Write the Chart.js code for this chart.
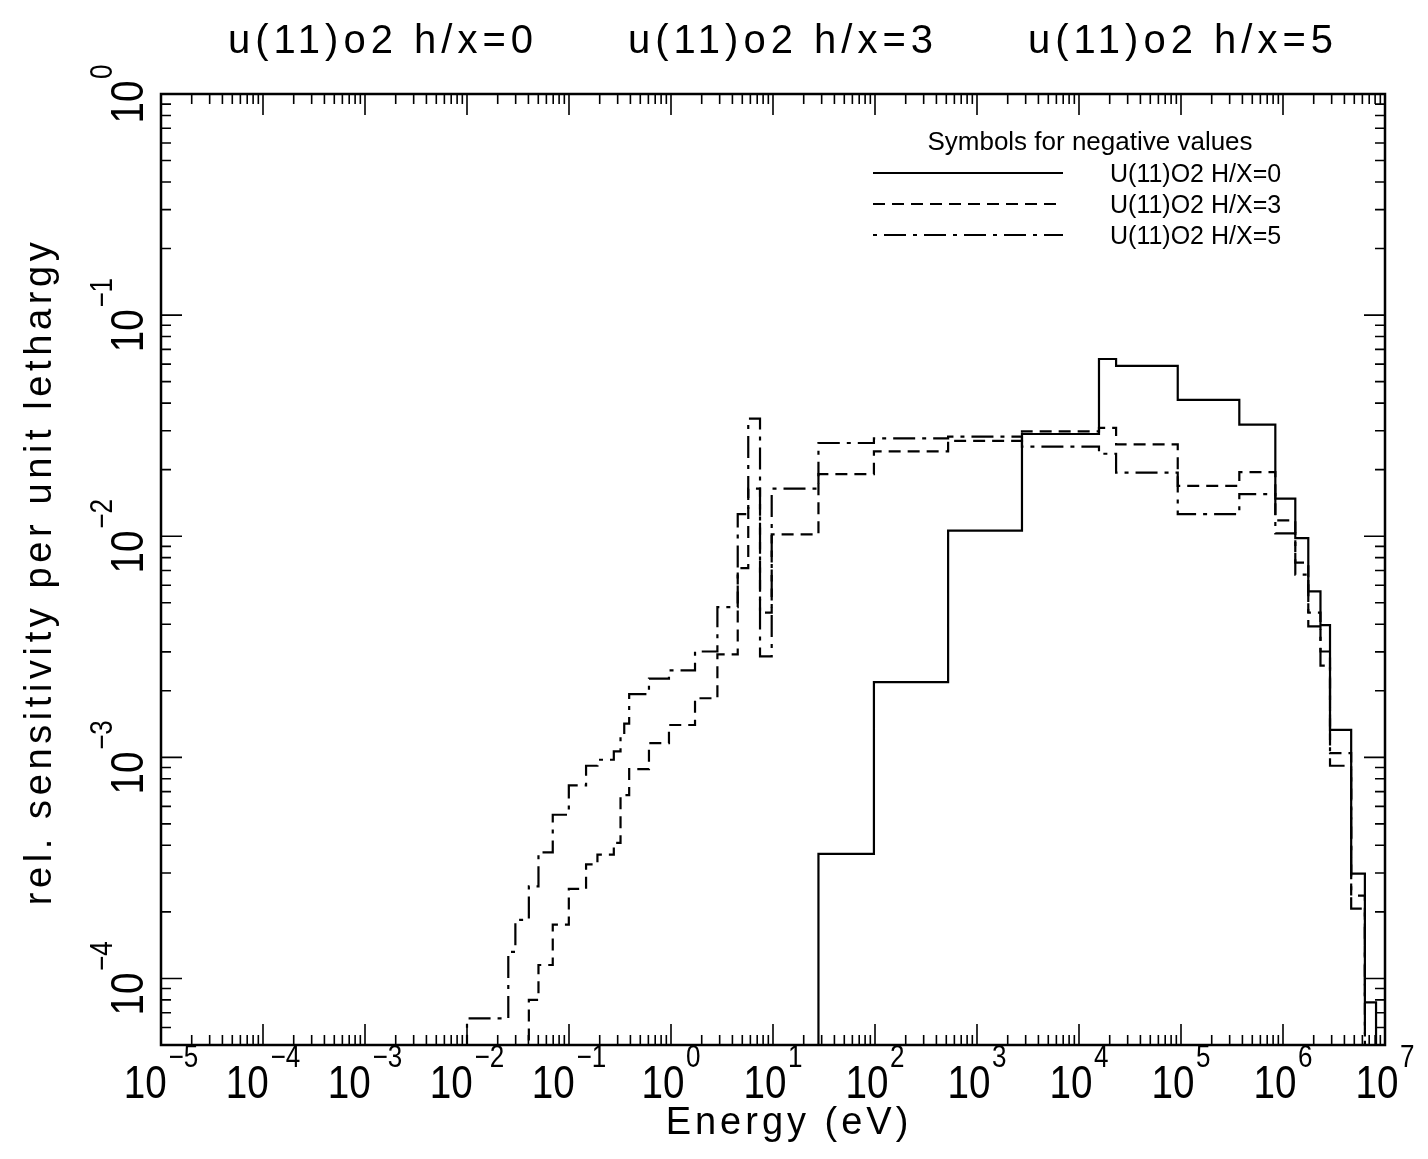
<!DOCTYPE html>
<html>
<head>
<meta charset="utf-8">
<title>u(11)o2 sensitivity</title>
<script src="https://cdn.jsdelivr.net/npm/chart.js@4.4.1/dist/chart.umd.min.js"></script>
<style>
body { margin: 0; background: #ffffff; }
#box { position: relative; width: 1428px; height: 1159px; }
</style>
</head>
<body>
<div id="box"><canvas id="plot"></canvas></div>
<script>
// energy group boundaries in eV
var groupEdges = [0.01, 0.0254, 0.0298, 0.0404, 0.0502, 0.0693, 0.0996, 0.147, 0.190, 0.275,
    0.320, 0.348, 0.389, 0.608, 0.955, 1.72, 2.85, 4.51, 5.72, 7.46,
    9.71, 27.9, 97.6, 521, 2760, 15700, 23100, 92900, 3.73e5, 8.41e5,
    1.32e6, 1.77e6, 2.33e6, 2.89e6, 4.66e6, 6.35e6, 8.17e6];

// rel. sensitivity per unit lethargy, one value per group (null = below the plot)
var sensHX0 = [null, null, null, null, null, null, null, null, null, null,
    null, null, null, null, null, null, null, null, null, null,
    null, 3.66e-4, 2.19e-3, 0.0106, 0.0290, 0.0633, 0.0589, 0.0414, 0.0320, 0.0148,
    0.0098, 0.00563, 0.00396, 0.00133, 2.98e-4, 7.8e-5];

var sensHX3 = [null, null, null, 8.0e-5, 1.15e-4, 1.75e-4, 2.54e-4, 3.28e-4, 3.63e-4, 4.10e-4,
    6.74e-4, 6.74e-4, 8.85e-4, 1.16e-3, 1.40e-3, 1.85e-3, 2.92e-3, 7.17e-3, 0.0164, 4.51e-3,
    0.0102, 0.0191, 0.0242, 0.0270, 0.0298, 0.0309, 0.0260, 0.0169, 0.0195, 0.0118,
    0.0076, 0.00451, 0.00301, 1.045e-3, 2.37e-4, null];

var sensHX5 = [6.6e-5, 1.32e-4, 1.84e-4, 2.61e-4, 3.72e-4, 5.5e-4, 7.46e-4, 9.16e-4, 9.75e-4, 1.064e-3,
    1.245e-3, 1.42e-3, 1.93e-3, 2.27e-3, 2.475e-3, 3.01e-3, 4.78e-3, 0.0126, 0.0340, 2.86e-3,
    0.0164, 0.0264, 0.0277, 0.0282, 0.0254, 0.0236, 0.0194, 0.0126, 0.0155, 0.0103,
    0.0067, 0.00391, 0.0026, 9.16e-4, 2.07e-4, null];

var seriesLabels = ["U(11)O2 H/X=0", "U(11)O2 H/X=3", "U(11)O2 H/X=5"];
var titleTexts = ["u(11)o2 h/x=0", "u(11)o2 h/x=3", "u(11)o2 h/x=5"];
var legendTitle = "Symbols for negative values";
var xTickExponents = [-5, -4, -3, -2, -1, 0, 1, 2, 3, 4, 5, 6, 7];
var yTickExponents = [0, -1, -2, -3, -4];
var xAxisTitle = "Energy (eV)";
var yAxisTitle = "rel. sensitivity per unit lethargy";

var X_MIN = 1e-5, X_MAX = 1e7, Y_MIN = 5e-5, Y_MAX = 1;
var BELOW = 1e-7;

var dashStyles = [[], [12, 7], [4, 7, 22, 7]];
var FONT = '"Liberation Sans", Arial, sans-serif';

function stepPoints(values)
{
    var pts = [{x: X_MIN, y: BELOW}];
    for (var i = 0; i < values.length; i++) {
        pts.push({x: groupEdges[i], y: values[i] === null ? BELOW : values[i]});
    }
    pts.push({x: groupEdges[groupEdges.length - 1], y: BELOW});
    return pts;
}

function makeDataset(label, values, dash)
{
    return {
        label: label,
        data: stepPoints(values),
        stepped: 'before',
        borderColor: '#000',
        borderWidth: 2.2,
        borderDash: dash,
        pointRadius: 0,
        fill: false
    };
}

function spaced(ctx, px)
{
    if ('letterSpacing' in ctx) ctx.letterSpacing = px + 'px';
}

// "10" with a raised exponent, centred on x (local coords), slightly condensed
function powerLabel(ctx, exp, x, base)
{
    var sq = 0.84;
    var expText = exp < 0 ? '\u2212' + (-exp) : String(exp);
    ctx.font = '46px ' + FONT;
    var w1 = ctx.measureText('10').width;
    ctx.font = '31px ' + FONT;
    var w2 = ctx.measureText(expText).width;
    ctx.save();
    ctx.translate(x - (w1 + w2 + 2) * sq / 2, base);
    ctx.scale(sq, 1);
    ctx.font = '46px ' + FONT;
    ctx.fillText('10', 0, 0);
    ctx.font = '31px ' + FONT;
    ctx.fillText(expText, w1 + 2, -31);
    ctx.restore();
}

var decor = {
    id: 'decor',
    afterDatasetsDraw: function (chart)
    {
        var ctx = chart.ctx, a = chart.chartArea;
        var xs = chart.scales.x, ys = chart.scales.y;
        ctx.save();
        ctx.strokeStyle = '#000';
        ctx.fillStyle = '#000';
        ctx.setLineDash([]);

        // frame
        ctx.lineWidth = 2.5;
        ctx.strokeRect(a.left, a.top, a.right - a.left, a.bottom - a.top);

        // inward ticks, all four sides
        ctx.lineWidth = 1.6;
        ctx.beginPath();
        var e, k, v, p, len;
        for (e = -5; e <= 7; e++) {
            for (k = 1; k <= 9; k++) {
                v = k * Math.pow(10, e);
                if (v < X_MIN || v > X_MAX) continue;
                p = xs.getPixelForValue(v);
                len = k === 1 ? 21 : 10;
                ctx.moveTo(p, a.bottom); ctx.lineTo(p, a.bottom - len);
                ctx.moveTo(p, a.top); ctx.lineTo(p, a.top + len);
            }
        }
        for (e = -5; e <= 0; e++) {
            for (k = 1; k <= 9; k++) {
                v = k * Math.pow(10, e);
                if (v < Y_MIN || v > Y_MAX) continue;
                p = ys.getPixelForValue(v);
                len = k === 1 ? 21 : 10;
                ctx.moveTo(a.left, p); ctx.lineTo(a.left + len, p);
                ctx.moveTo(a.right, p); ctx.lineTo(a.right - len, p);
            }
        }
        ctx.stroke();

        // tick labels
        ctx.textAlign = 'left';
        ctx.textBaseline = 'alphabetic';
        xTickExponents.forEach(function (ex) {
            powerLabel(ctx, ex, xs.getPixelForValue(Math.pow(10, ex)), a.bottom + 53);
        });
        yTickExponents.forEach(function (ex) {
            ctx.save();
            ctx.translate(a.left - 18, ys.getPixelForValue(Math.pow(10, ex)));
            ctx.rotate(-Math.PI / 2);
            powerLabel(ctx, ex, 0, 0);
            ctx.restore();
        });

        // axis titles
        ctx.textAlign = 'center';
        ctx.font = '38px ' + FONT;
        spaced(ctx, 4);
        ctx.fillText(xAxisTitle, (a.left + a.right) / 2 + 16, a.bottom + 89);
        ctx.save();
        ctx.translate(a.left - 110, (a.top + a.bottom) / 2 + 2);
        ctx.rotate(-Math.PI / 2);
        spaced(ctx, 4.6);
        ctx.fillText(yAxisTitle, 0, 0);
        ctx.restore();

        // titles above the frame
        ctx.font = '40px ' + FONT;
        spaced(ctx, 5);
        var mid = (a.left + a.right) / 2 + 10;
        titleTexts.forEach(function (t, i) {
            ctx.fillText(t, mid + (i - 1) * 400, a.top - 41);
        });
        spaced(ctx, 0);

        // legend box
        ctx.font = '26px ' + FONT;
        ctx.fillText(legendTitle, 1090, 150);
        ctx.textAlign = 'left';
        ctx.font = '25px ' + FONT;
        seriesLabels.forEach(function (lab, i) {
            var y = 173 + i * 31;
            ctx.lineWidth = 2;
            ctx.setLineDash(dashStyles[i]);
            ctx.beginPath();
            ctx.moveTo(873, y);
            ctx.lineTo(1063, y);
            ctx.stroke();
            ctx.setLineDash([]);
            ctx.fillText(lab, 1110, y + 9);
        });
        ctx.restore();
    }
};

var chart = new Chart(document.getElementById('plot'), {
    type: 'line',
    data: {
        datasets: [
            makeDataset(seriesLabels[0], sensHX0, dashStyles[0]),
            makeDataset(seriesLabels[1], sensHX3, dashStyles[1]),
            makeDataset(seriesLabels[2], sensHX5, dashStyles[2])
        ]
    },
    options: {
        responsive: true,
        maintainAspectRatio: false,
        animation: false,
        events: [],
        layout: { padding: { left: 161, right: 43, top: 94, bottom: 114 } },
        scales: {
            x: { type: 'logarithmic', min: X_MIN, max: X_MAX, display: false },
            y: { type: 'logarithmic', min: Y_MIN, max: Y_MAX, display: false }
        },
        plugins: {
            legend: { display: false },
            tooltip: { enabled: false }
        }
    },
    plugins: [decor]
});
</script>
</body>
</html>
